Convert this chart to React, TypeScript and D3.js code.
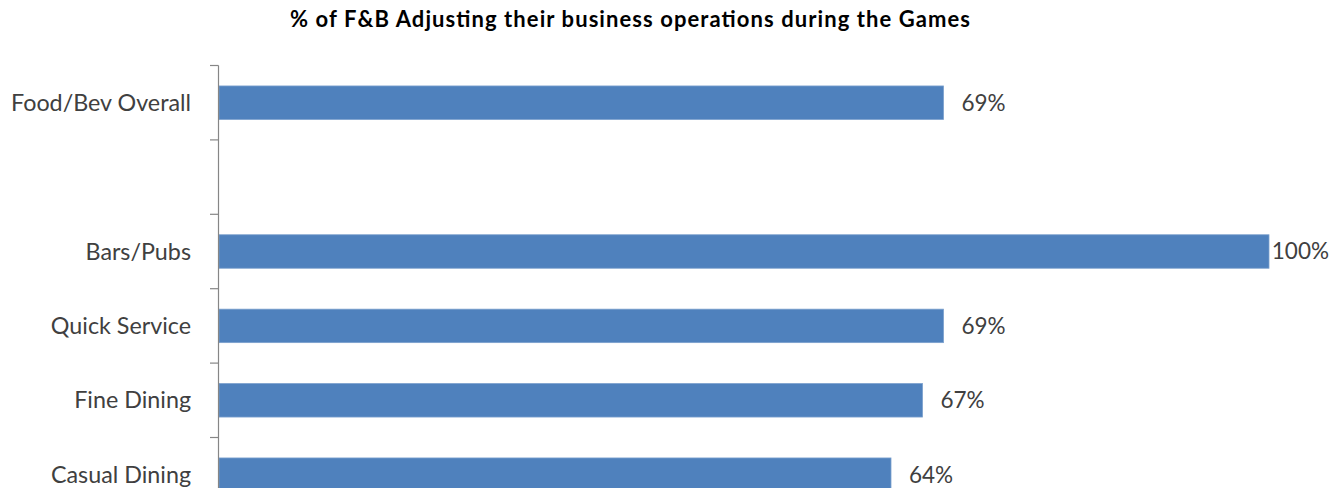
import React, { useEffect, useRef } from "react";
import * as d3 from "d3";

const title = "% of F&B Adjusting their business operations during the Games";
const categories = ["Food/Bev Overall", " ", "Bars/Pubs", "Quick Service", "Fine Dining", "Casual Dining"];
const values: (number | null)[] = [69, null, 100, 69, 67, 64];

const W = 1344;
const H = 488;
const FONT = "Lato, 'Open Sans', sans-serif";

export default function App() {
  const ref = useRef<SVGSVGElement | null>(null);

  useEffect(() => {
    const svg = d3.select(ref.current);
    svg.selectAll("*").remove();

    const x = d3.scaleLinear().domain([0, 100]).range([219, 1269]);
    const y = d3.scaleBand<string>().domain(categories).range([65.5, 65.5 + 6 * 74.4]).padding(0);
    const bw = y.bandwidth();
    const bh = bw * 0.45;

    svg.append("text")
      .attr("x", 630)
      .attr("y", 27)
      .attr("text-anchor", "middle")
      .attr("font-family", FONT)
      .attr("font-weight", "bold")
      .attr("font-size", 22)
      .attr("textLength", 680)
      .attr("lengthAdjust", "spacing")
      .attr("fill", "#000")
      .text(title);

    const data = categories.map((c, i) => ({ c, v: values[i] }));

    svg.append("g").selectAll("rect")
      .data(data.filter(d => d.v !== null))
      .join("rect")
      .attr("x", x(0))
      .attr("y", d => (y(d.c) as number) + (bw - bh) / 2)
      .attr("width", d => x(d.v as number) - x(0))
      .attr("height", bh)
      .attr("fill", "#4F81BD")
      .attr("stroke", "#7BA0CD")
      .attr("stroke-width", 0.8);

    // axis
    const ax = svg.append("g");
    ax.append("line")
      .attr("x1", 218.5).attr("x2", 218.5)
      .attr("y1", y.range()[0]).attr("y2", y.range()[1])
      .attr("stroke", "#868686").attr("stroke-width", 1.2);
    const tickPos = categories.map(c => y(c) as number).concat([y.range()[1]]);
    ax.selectAll("line.tick")
      .data(tickPos)
      .join("line")
      .attr("class", "tick")
      .attr("x1", 210).attr("x2", 218.5)
      .attr("y1", d => d).attr("y2", d => d)
      .attr("stroke", "#868686").attr("stroke-width", 1.2);

    ax.selectAll("text")
      .data(categories)
      .join("text")
      .attr("x", 191)
      .attr("y", c => (y(c) as number) + bw / 2)
      .attr("dy", "0.35em")
      .attr("text-anchor", "end")
      .attr("font-family", FONT)
      .attr("font-size", 23.3)
      .attr("fill", "#404040")
      .text(c => c);

    // value labels
    const lab = svg.append("g").selectAll("text")
      .data(data.filter(d => d.v !== null))
      .join("text")
      .attr("x", d => x(d.v as number) + 18)
      .attr("y", d => (y(d.c) as number) + bw / 2)
      .attr("dy", "0.35em")
      .attr("font-family", FONT)
      .attr("font-size", 22.5)
      .attr("fill", "#404040")
      .text(d => `${d.v}%`);

    lab.each(function (d) {
      const el = this as SVGTextElement;
      const w = el.getComputedTextLength();
      const sx = x(d.v as number) + 18;
      if (sx + w > 1329) {
        d3.select(el).attr("x", 1329 - w);
      }
    });
  }, []);

  return (
    <svg
      ref={ref}
      width={W}
      height={H}
      style={{ position: "absolute", left: 0, top: 0, background: "#fff", display: "block" }}
    />
  );
}
